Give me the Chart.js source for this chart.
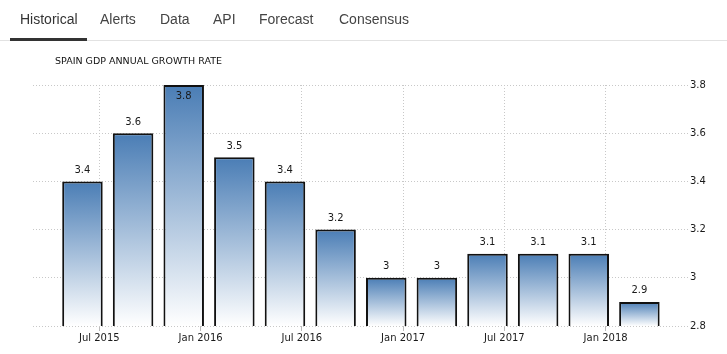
<!DOCTYPE html>
<html>
<head>
<meta charset="utf-8">
<script src="https://cdn.jsdelivr.net/npm/chart.js@4"></script>
<style>
  html, body { margin: 0; padding: 0; background: #fff; }
  body { width: 727px; height: 354px; position: relative; overflow: hidden; }
  #wrap { position: absolute; left: 0; top: 0; width: 727px; height: 354px; }
  .tabs { position: absolute; left: 0; top: 0; width: 727px; height: 41px; z-index: 2;
          font-family: "Liberation Sans", Arial, sans-serif; font-size: 14px; color: #444; }
  .tabs span { position: absolute; top: 11px; }
  .tabs .line { position: absolute; left: 0; top: 40px; width: 727px; height: 1px; background: #e2e2e2; }
  .tabs .active { position: absolute; left: 10px; top: 38px; width: 77px; height: 3px; background: #333; }
  .title { position: absolute; left: 55px; top: 55px; z-index: 2;
           font-family: "DejaVu Sans", Verdana, sans-serif; font-size: 9.5px; color: #111; }
</style>
</head>
<body>
<div class="tabs">
  <span style="left:20px;color:#333">Historical</span>
  <span style="left:100px">Alerts</span>
  <span style="left:160px">Data</span>
  <span style="left:213px">API</span>
  <span style="left:259px">Forecast</span>
  <span style="left:339px">Consensus</span>
  <div class="line"></div>
  <div class="active"></div>
</div>
<div class="title">SPAIN GDP ANNUAL GROWTH RATE</div>
<div id="wrap"><canvas id="chart" width="727" height="354"></canvas></div>

<script>
// quarterly readings, placed at the month they are drawn at
const periods = ['Jun 2015', 'Sep 2015', 'Dec 2015', 'Mar 2016', 'Jun 2016', 'Sep 2016',
                 'Dec 2016', 'Mar 2017', 'Jun 2017', 'Sep 2017', 'Dec 2017', 'Mar 2018'];
const growth = [3.4, 3.6, 3.8, 3.5, 3.4, 3.2, 3, 3, 3.1, 3.1, 3.1, 2.9];
const xTickLabels = ['Jul 2015', 'Jan 2016', 'Jul 2016', 'Jan 2017', 'Jul 2017', 'Jan 2018'];
const yTicks = [2.8, 3, 3.2, 3.4, 3.6, 3.8];

const MONTHS = ['Jan','Feb','Mar','Apr','May','Jun','Jul','Aug','Sep','Oct','Nov','Dec'];
function monthIndex(label) {
    const [m, y] = label.split(' ');
    return (parseInt(y, 10) - 2015) * 12 + MONTHS.indexOf(m);
}

const FONT = { family: '"DejaVu Sans", Verdana, sans-serif', size: 10 };
const TEXT = '#1a1a1a';

// per-bar vertical gradient, blue at the top fading to white at the base
function barFill(context) {
    const chart = context.chart;
    const yScale = chart.scales.y;
    if (!yScale || !chart.chartArea || !context.raw) return '#4a7db5';
    const top = yScale.getPixelForValue(context.raw.y);
    const base = yScale.getPixelForValue(yScale.min);
    const g = chart.ctx.createLinearGradient(0, top, 0, base);
    g.addColorStop(0, '#4a7db5');
    g.addColorStop(1, '#ffffff');
    return g;
}

// value labels above each bar (inside when there is no room)
const valueLabels = {
    id: 'valueLabels',
    afterDatasetsDraw(chart) {
        const ctx = chart.ctx;
        const top = chart.chartArea.top;
        ctx.save();
        ctx.font = `${FONT.size}px ${FONT.family}`;
        ctx.fillStyle = TEXT;
        ctx.textAlign = 'center';
        ctx.textBaseline = 'middle';
        chart.getDatasetMeta(0).data.forEach((bar, i) => {
            let y = bar.y - 11;
            if (y - 6 < top) y = bar.y + 11;
            ctx.fillText(String(growth[i]), bar.x, y);
        });
        ctx.restore();
    }
};

const tickPositions = xTickLabels.map(monthIndex);

new Chart(document.getElementById('chart'), {
    type: 'bar',
    data: {
        datasets: [{
            data: periods.map((p, i) => ({ x: monthIndex(p), y: growth[i] })),
            borderColor: '#111',
            borderWidth: 2,
            borderSkipped: false,
            backgroundColor: barFill,
            categoryPercentage: 1,
            barPercentage: 0.8
        }]
    },
    options: {
        responsive: false,
        animation: false,
        layout: { padding: { top: 85, left: 33, right: 0, bottom: 0 } },
        plugins: {
            legend: { display: false },
            tooltip: { enabled: false }
        },
        scales: {
            x: {
                type: 'linear',
                position: 'bottom',
                offset: false,
                min: 2.07,
                max: 40.88,
                afterBuildTicks(scale) {
                    scale.ticks = tickPositions.map(v => ({ value: v }));
                },
                afterFit(scale) { scale.height = 28; },
                ticks: {
                    font: FONT,
                    color: TEXT,
                    padding: 1,
                    maxRotation: 0,
                    autoSkip: false,
                    callback: v => xTickLabels[tickPositions.indexOf(v)]
                },
                grid: {
                    offset: false,
                    color: '#c8c8c8',
                    tickLength: 5,
                    tickColor: '#bbb',
                    tickBorderDash: [1, 0]
                },
                border: { display: false, dash: [1, 2] }
            },
            y: {
                position: 'right',
                min: 2.8,
                max: 3.8,
                afterBuildTicks(scale) {
                    scale.ticks = yTicks.map(v => ({ value: v }));
                },
                afterFit(scale) { scale.width = 39; },
                ticks: {
                    font: FONT,
                    color: TEXT,
                    padding: 2,
                    callback: v => String(+v.toFixed(1))
                },
                grid: { color: '#c8c8c8', drawTicks: false },
                border: { display: false, dash: [1, 2] }
            }
        }
    },
    plugins: [valueLabels]
});
</script>
</body>
</html>
